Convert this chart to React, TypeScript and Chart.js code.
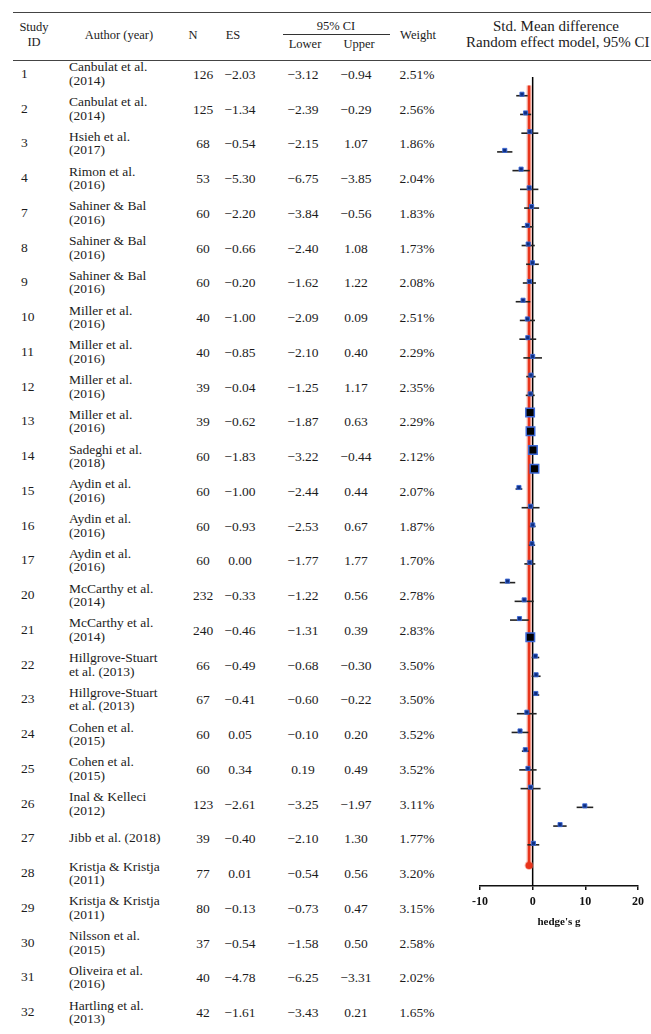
import React, { useEffect, useRef } from 'react';
import { Chart, registerables } from 'chart.js';

Chart.register(...registerables);

// ---------- table data ----------
const studyIds = [1, 2, 3, 4, 7, 8, 9, 10, 11, 12, 13, 14, 15, 16, 17, 20, 21, 22, 23, 24, 25, 26, 27, 28, 29, 30, 31, 32];
const authorLine1 = [
  'Canbulat et al.', 'Canbulat et al.', 'Hsieh et al.', 'Rimon et al.', 'Sahiner & Bal', 'Sahiner & Bal',
  'Sahiner & Bal', 'Miller et al.', 'Miller et al.', 'Miller et al.', 'Miller et al.', 'Sadeghi et al.',
  'Aydin et al.', 'Aydin et al.', 'Aydin et al.', 'McCarthy et al.', 'McCarthy et al.', 'Hillgrove-Stuart',
  'Hillgrove-Stuart', 'Cohen et al.', 'Cohen et al.', 'Inal & Kelleci', 'Jibb et al. (2018)', 'Kristja & Kristja',
  'Kristja & Kristja', 'Nilsson et al.', 'Oliveira et al.', 'Hartling et al.',
];
const authorLine2 = [
  '(2014)', '(2014)', '(2017)', '(2016)', '(2016)', '(2016)', '(2016)', '(2016)', '(2016)', '(2016)',
  '(2016)', '(2018)', '(2016)', '(2016)', '(2016)', '(2014)', '(2014)', 'et al. (2013)', 'et al. (2013)',
  '(2015)', '(2015)', '(2012)', '', '(2011)', '(2011)', '(2015)', '(2016)', '(2013)',
];
const sampleN = [126, 125, 68, 53, 60, 60, 60, 40, 40, 39, 39, 60, 60, 60, 60, 232, 240, 66, 67, 60, 60, 123, 39, 77, 80, 37, 40, 42];
const effectSize = [-2.03, -1.34, -0.54, -5.30, -2.20, -0.66, -0.20, -1.00, -0.85, -0.04, -0.62, -1.83, -1.00, -0.93, 0.00, -0.33, -0.46, -0.49, -0.41, 0.05, 0.34, -2.61, -0.40, 0.01, -0.13, -0.54, -4.78, -1.61];
const ciLower = [-3.12, -2.39, -2.15, -6.75, -3.84, -2.40, -1.62, -2.09, -2.10, -1.25, -1.87, -3.22, -2.44, -2.53, -1.77, -1.22, -1.31, -0.68, -0.60, -0.10, 0.19, -3.25, -2.10, -0.54, -0.73, -1.58, -6.25, -3.43];
const ciUpper = [-0.94, -0.29, 1.07, -3.85, -0.56, 1.08, 1.22, 0.09, 0.40, 1.17, 0.63, -0.44, 0.44, 0.67, 1.77, 0.56, 0.39, -0.30, -0.22, 0.20, 0.49, -1.97, 1.30, 0.56, 0.47, 0.50, -3.31, 0.21];
const weights = [2.51, 2.56, 1.86, 2.04, 1.83, 1.73, 2.08, 2.51, 2.29, 2.35, 2.29, 2.12, 2.07, 1.87, 1.70, 2.78, 2.83, 3.50, 3.50, 3.52, 3.52, 3.11, 1.77, 3.20, 3.15, 2.58, 2.02, 1.65];

// studies visible only in the forest plot
const extraES = [-2.50, -0.45, 0.50, 0.65, 0.60, -1.10, -2.40, -1.40, -0.90, -0.40, 9.90, 5.20, 0.15];
const extraLower = [-4.30, -0.65, -0.20, -0.20, 0.00, -3.00, -4.00, -2.05, -2.55, -2.30, 8.35, 3.90, -1.00];
const extraUpper = [-0.75, -0.25, 1.25, 1.50, 1.25, 0.75, -0.80, -0.75, 0.75, 1.50, 11.50, 6.45, 1.25];
const extraWeight = [2.2, 3.5, 3.0, 2.9, 3.1, 2.1, 2.3, 3.0, 2.4, 2.1, 2.6, 2.8, 2.7];

const pooledES = -0.68;
const xTicks = [-10, 0, 10, 20];
const xLabel = "hedge's g";

// ---------- layout ----------
const FONT = "'Liberation Serif', 'Times New Roman', serif";
const FS_ROW = 13.5;
const FS_HEAD = 12.5;
const FS_RIGHT = 15;
const ROW_TOP = 56.6;
const ROW_H = 34.75;
const TEXT = '#1c1c1c';

const fmt = (v: number) => v.toFixed(2).replace('-', '\u2212');

function T({ x, y, text, align = 'center', size = FS_ROW, weight = 400 }: { x: number; y: number; text: string; align?: 'center' | 'left'; size?: number; weight?: number }) {
  return (
    <div
      style={{
        position: 'absolute',
        left: x,
        top: y - 9,
        height: 18,
        lineHeight: '18px',
        fontSize: size,
        fontWeight: weight,
        whiteSpace: 'nowrap',
        transform: align === 'center' ? 'translateX(-50%)' : undefined,
        color: TEXT,
      }}
    >
      {text}
    </div>
  );
}

function ForestPlot() {
  const ref = useRef<HTMLCanvasElement>(null);
  useEffect(() => {
    if (!ref.current) return;
    const allES = [...effectSize, ...extraES];
    const allLo = [...ciLower, ...extraLower];
    const allHi = [...ciUpper, ...extraUpper];
    const allW = [...weights, ...extraWeight];
    const n = allES.length;
    const yMax = n + 2.2;
    const big = (w: number) => w >= 3.4;

    const ciSets: any[] = allES.map((_, i) => ({
      type: 'line',
      data: [
        { x: allLo[i], y: i + 1 },
        { x: allHi[i], y: i + 1 },
      ],
      borderColor: '#222',
      borderWidth: 1.6,
      pointRadius: 0,
      order: 5,
    }));

    const datasets: any[] = [
      {
        type: 'line',
        data: [
          { x: 0, y: 0 },
          { x: 0, y: yMax },
        ],
        borderColor: '#000',
        borderWidth: 1.5,
        pointRadius: 0,
        order: 10,
      },
      {
        type: 'line',
        data: [
          { x: pooledES, y: 0.45 },
          { x: pooledES, y: n + 1.1 },
        ],
        borderColor: 'rgba(240,130,110,0.55)',
        borderWidth: 5,
        pointRadius: [0, 4.5],
        pointBackgroundColor: 'rgba(240,130,110,0.55)',
        pointBorderWidth: 0,
        order: 9,
      },
      {
        type: 'line',
        data: [
          { x: pooledES, y: 0.45 },
          { x: pooledES, y: n + 1.1 },
        ],
        borderColor: '#e8341c',
        borderWidth: 2.5,
        pointRadius: [0, 3.5],
        pointStyle: 'circle',
        pointBackgroundColor: '#e8341c',
        pointBorderWidth: 0,
        order: 8,
      },
      ...ciSets,
      {
        type: 'scatter',
        data: allES.map((v, i) => ({ x: v, y: i + 1 - 0.08 })),
        pointStyle: 'rect',
        pointRadius: allW.map((w) => (big(w) ? 6 : 2.9)),
        backgroundColor: allW.map((w) => (big(w) ? '#000' : '#0f2f80')),
        borderColor: '#3a66d6',
        borderWidth: allW.map((w) => (big(w) ? 1.5 : 0.9)),
        order: 1,
      },
    ];

    const chart = new Chart(ref.current, {
      type: 'scatter',
      data: { datasets },
      options: {
        animation: false,
        responsive: false,
        maintainAspectRatio: false,
        layout: { autoPadding: false, padding: { left: 40, right: 13, top: 0, bottom: 0 } },
        plugins: { legend: { display: false }, tooltip: { enabled: false } },
        scales: {
          x: {
            type: 'linear',
            min: -10,
            max: 20,
            afterBuildTicks: (s: any) => {
              s.ticks = xTicks.map((v) => ({ value: v }));
            },
            afterFit: (s: any) => {
              s.height = 43;
            },
            grid: { drawOnChartArea: false, drawTicks: true, tickLength: 4, color: '#111', lineWidth: 1.5 },
            border: { display: true, color: '#111', width: 1.5 },
            ticks: {
              color: '#111',
              padding: 5,
              font: { family: 'Liberation Serif', size: 12, weight: 'bold' },
              callback: (v: any) => String(v),
            },
            title: {
              display: true,
              text: xLabel,
              color: '#111',
              padding: { top: 2, bottom: 0 },
              font: { family: 'Liberation Serif', size: 11, weight: 'bold' },
            },
          },
          y: { type: 'linear', display: false, reverse: true, min: 0, max: yMax },
        },
      } as any,
    });
    return () => chart.destroy();
  }, []);
  return <canvas ref={ref} width={211} height={852} style={{ position: 'absolute', left: 440, top: 77, width: 211, height: 852 }} />;
}

export default function App() {
  const rows = studyIds.map((id, k) => {
    const yc = ROW_TOP + ROW_H * (k + 0.5);
    const two = authorLine2[k] !== '';
    return (
      <React.Fragment key={k}>
        <T x={21} y={yc} text={String(id)} align="left" />
        {two ? (
          <>
            <T x={69} y={yc - 6.5} text={authorLine1[k]} align="left" />
            <T x={69} y={yc + 7} text={authorLine2[k]} align="left" />
          </>
        ) : (
          <T x={69} y={yc} text={authorLine1[k]} align="left" />
        )}
        <T x={203} y={yc + 1} text={String(sampleN[k])} />
        <T x={240} y={yc + 1} text={fmt(effectSize[k])} />
        <T x={303} y={yc + 1} text={fmt(ciLower[k])} />
        <T x={356} y={yc + 1} text={fmt(ciUpper[k])} />
        <T x={417} y={yc + 1} text={weights[k].toFixed(2) + '%'} />
      </React.Fragment>
    );
  });

  return (
    <div
      style={{
        position: 'absolute',
        left: 0,
        top: 0,
        width: 651,
        height: 1034,
        overflow: 'hidden',
        background: '#fff',
        fontFamily: FONT,
        fontSize: FS_ROW,
        color: TEXT,
      }}
    >
      <div style={{ position: 'absolute', left: 13, top: 11.5, width: 638, height: 1.5, background: '#444' }} />
      <div style={{ position: 'absolute', left: 13, top: 59.5, width: 638, height: 1.5, background: '#444' }} />
      <div style={{ position: 'absolute', left: 283, top: 34, width: 107, height: 1, background: '#333' }} />
      <T x={34} y={27} text="Study" size={FS_HEAD} />
      <T x={34} y={42} text="ID" size={FS_HEAD} />
      <T x={119} y={35} text="Author (year)" size={FS_HEAD} />
      <T x={193} y={35} text="N" size={FS_HEAD} />
      <T x={233} y={35} text="ES" size={FS_HEAD} />
      <T x={336} y={26} text="95% CI" size={FS_HEAD} />
      <T x={305} y={44} text="Lower" size={FS_HEAD} />
      <T x={359} y={44} text="Upper" size={FS_HEAD} />
      <T x={418} y={35} text="Weight" size={FS_HEAD} />
      <T x={556} y={26} text="Std. Mean difference" size={FS_RIGHT} />
      <T x={466} y={42} text="Random effect model, 95% CI" align="left" size={FS_RIGHT} />
      {rows}
      <ForestPlot />
    </div>
  );
}
